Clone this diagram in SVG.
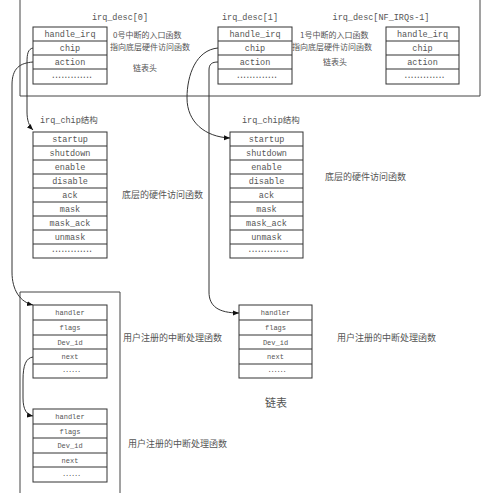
<svg xmlns="http://www.w3.org/2000/svg" width="487" height="493" viewBox="0 0 487 493">
<style>
.frame{fill:none;stroke:#444;stroke-width:1}
.box rect{fill:#fff;stroke:#333;stroke-width:1}
.box line{stroke:#333;stroke-width:1}
.t{font-family:"Liberation Mono","DejaVu Sans Mono",monospace;font-size:8.5px;fill:#555;text-anchor:middle}
.ts{font-family:"Liberation Mono","DejaVu Sans Mono",monospace;font-size:7px;fill:#555;text-anchor:middle}
.cn{font-family:"Noto Sans CJK SC",sans-serif;font-size:8px;fill:#555}
.cl{font-family:"Noto Sans CJK SC",sans-serif;font-size:9px;fill:#555}
.dots{font-family:"Liberation Mono","DejaVu Sans Mono",monospace;font-size:8.5px;fill:#555;text-anchor:middle;letter-spacing:-2px}
.ds{font-family:"Liberation Mono","DejaVu Sans Mono",monospace;font-size:7px;fill:#555;text-anchor:middle;letter-spacing:-1.2px}
.conn path{fill:none;stroke:#333;stroke-width:1}
</style>
<defs>
<marker id="ah" markerUnits="userSpaceOnUse" markerWidth="6" markerHeight="6" viewBox="0 0 6 6" refX="6" refY="3" orient="auto">
<path d="M0,0.5 L6,3 L0,5.5 Z" fill="#111"/>
</marker>
</defs>
<rect width="487" height="493" fill="#fff"/>

<path class="frame" d="M20,0 V96 H480 V0"/>
<path class="frame" d="M20,493 V292 H120 V493"/>

<g id="desc0" class="box">
<rect x="33" y="27" width="74" height="57"/>
<line x1="33" y1="41" x2="107" y2="41"/><line x1="33" y1="55" x2="107" y2="55"/><line x1="33" y1="69" x2="107" y2="69"/>
<text class="t" x="120" y="20">irq_desc[0]</text>
<text class="t" x="70" y="37">handle_irq</text>
<text class="t" x="70" y="51">chip</text>
<text class="t" x="70" y="65">action</text>
<text class="dots" x="71" y="78">.............</text>
<text class="cn" x="113" y="38">0号中断的入口函数</text>
<text class="cn" x="110" y="50">指向底层硬件访问函数</text>
<text class="cn" x="133" y="71">链表头</text>
</g>

<g id="desc1" class="box">
<rect x="218" y="27" width="74" height="57"/>
<line x1="218" y1="41" x2="292" y2="41"/><line x1="218" y1="55" x2="292" y2="55"/><line x1="218" y1="69" x2="292" y2="69"/>
<text class="t" x="250" y="20">irq_desc[1]</text>
<text class="t" x="255" y="37">handle_irq</text>
<text class="t" x="255" y="51">chip</text>
<text class="t" x="255" y="65">action</text>
<text class="dots" x="256" y="78">.............</text>
<text class="cn" x="300" y="38">1号中断的入口函数</text>
<text class="cn" x="292" y="50">指向底层硬件访问函数</text>
<text class="cn" x="323" y="65">链表头</text>
</g>

<g id="descN" class="box">
<rect x="386" y="27" width="73" height="57"/>
<line x1="386" y1="41" x2="459" y2="41"/><line x1="386" y1="55" x2="459" y2="55"/><line x1="386" y1="69" x2="459" y2="69"/>
<text class="t" x="381" y="20">irq_desc[NF_IRQs-1]</text>
<text class="t" x="422.5" y="37">handle_irq</text>
<text class="t" x="422.5" y="51">chip</text>
<text class="t" x="422.5" y="65">action</text>
<text class="dots" x="423.5" y="78">.............</text>
</g>

<g id="chip1" class="box">
<rect x="33" y="132" width="74" height="126"/>
<line x1="33" y1="146" x2="107" y2="146"/><line x1="33" y1="160" x2="107" y2="160"/><line x1="33" y1="174" x2="107" y2="174"/><line x1="33" y1="188" x2="107" y2="188"/><line x1="33" y1="202" x2="107" y2="202"/><line x1="33" y1="216" x2="107" y2="216"/><line x1="33" y1="230" x2="107" y2="230"/><line x1="33" y1="244" x2="107" y2="244"/>
<text class="cn" x="40" y="123" style="font-family:'Liberation Mono','Noto Sans CJK SC',monospace;font-size:8.5px">irq_chip结构</text>
<text class="t" x="70" y="142">startup</text>
<text class="t" x="70" y="156">shutdown</text>
<text class="t" x="70" y="170">enable</text>
<text class="t" x="70" y="184">disable</text>
<text class="t" x="70" y="198">ack</text>
<text class="t" x="70" y="212">mask</text>
<text class="t" x="70" y="226">mask_ack</text>
<text class="t" x="70" y="240">unmask</text>
<text class="dots" x="71" y="252">.............</text>
<text class="cl" x="122" y="198">底层的硬件访问函数</text>
</g>

<g id="chip2" class="box">
<rect x="230" y="132" width="73" height="126"/>
<line x1="230" y1="146" x2="303" y2="146"/><line x1="230" y1="160" x2="303" y2="160"/><line x1="230" y1="174" x2="303" y2="174"/><line x1="230" y1="188" x2="303" y2="188"/><line x1="230" y1="202" x2="303" y2="202"/><line x1="230" y1="216" x2="303" y2="216"/><line x1="230" y1="230" x2="303" y2="230"/><line x1="230" y1="244" x2="303" y2="244"/>
<text class="cn" x="242" y="123" style="font-family:'Liberation Mono','Noto Sans CJK SC',monospace;font-size:8.5px">irq_chip结构</text>
<text class="t" x="266.5" y="142">startup</text>
<text class="t" x="266.5" y="156">shutdown</text>
<text class="t" x="266.5" y="170">enable</text>
<text class="t" x="266.5" y="184">disable</text>
<text class="t" x="266.5" y="198">ack</text>
<text class="t" x="266.5" y="212">mask</text>
<text class="t" x="266.5" y="226">mask_ack</text>
<text class="t" x="266.5" y="240">unmask</text>
<text class="dots" x="267.5" y="252">.............</text>
<text class="cl" x="325" y="180">底层的硬件访问函数</text>
</g>

<g id="actionA" class="box">
<rect x="33" y="305" width="74" height="73"/>
<line x1="33" y1="320" x2="107" y2="320"/><line x1="33" y1="335" x2="107" y2="335"/><line x1="33" y1="349" x2="107" y2="349"/><line x1="33" y1="364" x2="107" y2="364"/>
<text class="ts" x="70" y="315">handler</text>
<text class="ts" x="70" y="330">flags</text>
<text class="ts" x="70" y="344.5">Dev_id</text>
<text class="ts" x="70" y="359">next</text>
<text class="ds" x="71" y="372">......</text>
<text class="cl" x="123" y="341">用户注册的中断处理函数</text>
</g>

<g id="actionB" class="box">
<rect x="33" y="409" width="74" height="73"/>
<line x1="33" y1="424" x2="107" y2="424"/><line x1="33" y1="438" x2="107" y2="438"/><line x1="33" y1="453" x2="107" y2="453"/><line x1="33" y1="467" x2="107" y2="467"/>
<text class="ts" x="70" y="419">handler</text>
<text class="ts" x="70" y="433.5">flags</text>
<text class="ts" x="70" y="448">Dev_id</text>
<text class="ts" x="70" y="462.5">next</text>
<text class="ds" x="71" y="476">......</text>
<text class="cl" x="128" y="447">用户注册的中断处理函数</text>
</g>

<g id="actionC" class="box">
<rect x="239" y="305" width="73" height="73"/>
<line x1="239" y1="320" x2="312" y2="320"/><line x1="239" y1="335" x2="312" y2="335"/><line x1="239" y1="349" x2="312" y2="349"/><line x1="239" y1="364" x2="312" y2="364"/>
<text class="ts" x="275.5" y="315">handler</text>
<text class="ts" x="275.5" y="330">flags</text>
<text class="ts" x="275.5" y="344.5">Dev_id</text>
<text class="ts" x="275.5" y="359">next</text>
<text class="ds" x="276.5" y="372">......</text>
<text class="cl" x="337" y="341">用户注册的中断处理函数</text>
<text class="cl" x="265" y="407" style="font-size:11px">链表</text>
</g>

<g id="connectors" class="conn">
<path d="M33,48 C28,49 27,54 27,62 L27,112 C27,120 29,126 33,130" marker-end="url(#ah)"/>
<path d="M33,62 C20,63 12,68 12,85 L12,272 C12,290 20,302 33,305" marker-end="url(#ah)"/>
<path d="M218,48 C196,50 187,75 187,98 C187,122 205,137 230,138" marker-end="url(#ah)"/>
<path d="M218,62 C212,62 209,64 209,70 L209,292 C209,306 218,313 239,313" marker-end="url(#ah)"/>
<path d="M33,357 C26,358 23,365 23,380 L23,398 C23,410 27,415 33,416" marker-end="url(#ah)"/>
</g>
</svg>
